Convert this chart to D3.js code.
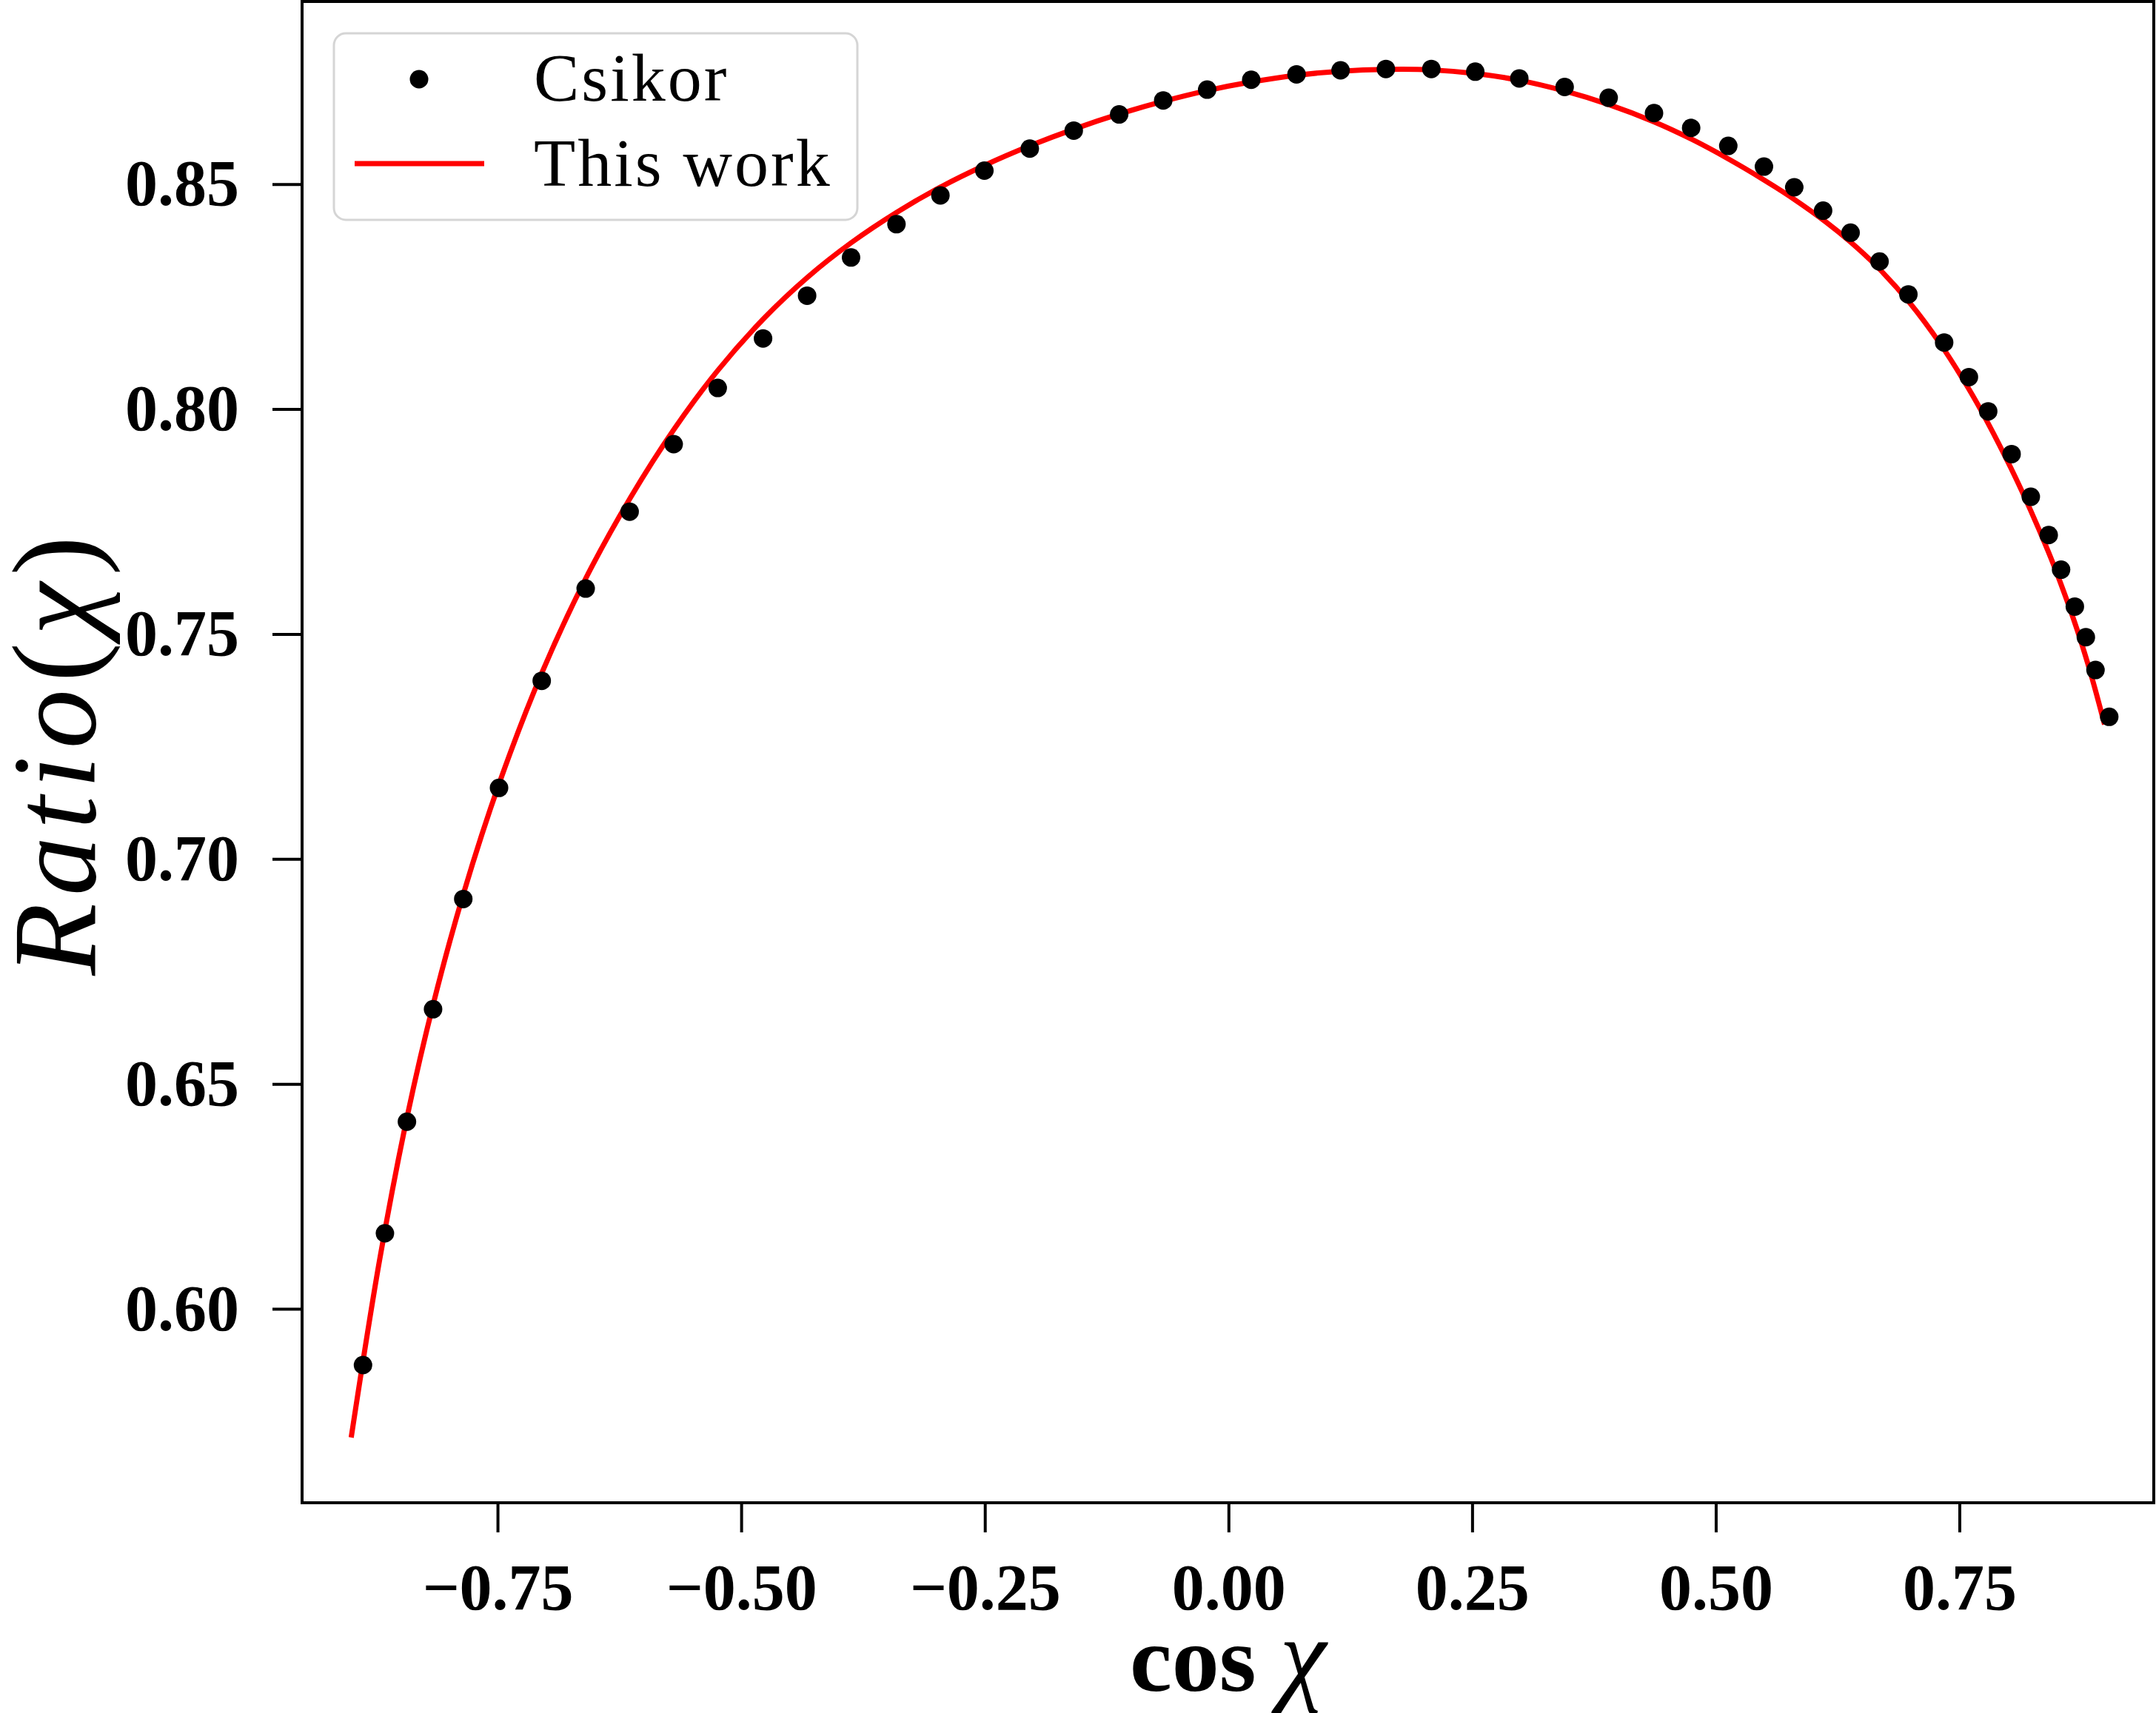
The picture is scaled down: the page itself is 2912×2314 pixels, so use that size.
<!DOCTYPE html>
<html>
<head>
<meta charset="utf-8">
<script src="https://cdn.jsdelivr.net/npm/d3@7"></script>
<style>
  body { margin: 0; background: #fff; }
  svg { display: block; }
  text { font-family: "Liberation Serif", serif; }
</style>
</head>
<body>
<div id="ratioplot"></div>
<script>
// Csikor points
var csikorX = [-0.8881, -0.8656, -0.8430, -0.8162, -0.7852, -0.7485, -0.7047, -0.6596, -0.6145, -0.5693,
               -0.5241, -0.4776, -0.4324, -0.3873, -0.3407, -0.2956, -0.2505, -0.2039, -0.1588, -0.1122,
               -0.0670, -0.0219, 0.0233, 0.0698, 0.1150, 0.1615, 0.2081, 0.2532, 0.2984, 0.3449,
               0.3901, 0.4366, 0.4747, 0.5128, 0.5494, 0.5805, 0.6101, 0.6383, 0.6680, 0.6976,
               0.7343, 0.7597, 0.7795, 0.8035, 0.8232, 0.8416, 0.8543, 0.8684, 0.8797, 0.8896, 0.9037];
var csikorY = [0.5875, 0.6168, 0.6416, 0.6666, 0.6911, 0.7158, 0.7396, 0.7601, 0.7772, 0.7922,
               0.8047, 0.8157, 0.8252, 0.8337, 0.8411, 0.8475, 0.8530, 0.8579, 0.8619, 0.8655,
               0.8686, 0.8710, 0.8732, 0.8744, 0.8753, 0.8756, 0.8756, 0.8750, 0.8735, 0.8716,
               0.8692, 0.8658, 0.8625, 0.8585, 0.8539, 0.8493, 0.8441, 0.8392, 0.8328, 0.8255,
               0.8148, 0.8071, 0.7995, 0.7900, 0.7805, 0.7720, 0.7643, 0.7561, 0.7493, 0.7420, 0.7316];

// "This work" curve
var workX = [-0.9002, -0.8707, -0.8425, -0.8157, -0.7847, -0.7480, -0.7043, -0.6592, -0.6140, -0.5690,
             -0.5240, -0.4770, -0.4320, -0.3870, -0.3400, -0.2950, -0.2500, -0.2040, -0.1590, -0.1120,
             -0.0670, -0.0220, 0.0230, 0.0700, 0.1150, 0.1620, 0.2080, 0.2530, 0.2980, 0.3450,
             0.3900, 0.4360, 0.4750, 0.5130, 0.5490, 0.5800, 0.6135, 0.6380, 0.6640, 0.6994,
             0.7300, 0.7590, 0.7790, 0.8030, 0.8230, 0.8410, 0.8540, 0.8710, 0.8850, 0.8989];
var workY = [0.5714, 0.6113, 0.6430, 0.6680, 0.6925, 0.7170, 0.7415, 0.7625, 0.7802, 0.7955,
             0.8086, 0.8201, 0.8293, 0.8370, 0.8438, 0.8494, 0.8542, 0.8585, 0.8622, 0.8656,
             0.8684, 0.8708, 0.8727, 0.8742, 0.8751, 0.8755, 0.8754, 0.8746, 0.8731, 0.8707,
             0.8677, 0.8639, 0.8600, 0.8556, 0.8510, 0.8467, 0.8415, 0.8372, 0.8320, 0.8235,
             0.8146, 0.8047, 0.7970, 0.7868, 0.7775, 0.7684, 0.7612, 0.7508, 0.7410, 0.7299];

var xTicks = [-0.75, -0.50, -0.25, 0.00, 0.25, 0.50, 0.75];
var yTicks = [0.60, 0.65, 0.70, 0.75, 0.80, 0.85];
var legendLabels = ["Csikor", "This work"];

var W = 2912, H = 2314;
// plot box (note: "top" is taken by window.top, so prefix these)
var mLeft = 408, mRight = 2909, mTop = 2, mBottom = 2030;

var svg = d3.select("#ratioplot")
            .append("svg")
            .attr("width", W)
            .attr("height", H);

// scales
var x = d3.scaleLinear()
          .domain([-0.9506, 0.9494])
          .range([mLeft, mRight]);

var y = d3.scaleLinear()
          .domain([0.5569, 0.8906])
          .range([mBottom, mTop]);

// x axis
var xAxis = svg.append("g")
  .attr("transform", "translate(0," + mBottom + ")")
  .call(d3.axisBottom(x).tickValues(xTicks).tickFormat(d3.format(".2f")).tickSize(40).tickPadding(42));

// y axis
var yAxis = svg.append("g")
  .attr("transform", "translate(" + mLeft + ",0)")
  .call(d3.axisLeft(y).tickValues(yTicks).tickFormat(d3.format(".2f")).tickSize(40).tickPadding(45));

[xAxis, yAxis].forEach(function(ax) {
  ax.select(".domain").remove();
  ax.selectAll(".tick line").attr("stroke", "#000").attr("stroke-width", 4);
  ax.selectAll(".tick text")
    .attr("fill", "#000")
    .style("font-family", "'Liberation Serif', serif")
    .style("font-weight", "bold")
    .style("font-size", "88px");
});

// the model curve
var workData = workX.map(function(d, i) { return {x: d, y: workY[i]}; });

svg.append("path")
  .datum(workData)
  .attr("d", d3.line().curve(d3.curveCatmullRom.alpha(0.5))
    .x(function(d) { return x(d.x); })
    .y(function(d) { return y(d.y); })
  )
  .attr("stroke", "#ff0000")
  .style("stroke-width", 7)
  .style("fill", "none");

// Csikor dots on top
var csikorData = csikorX.map(function(d, i) { return {x: d, y: csikorY[i]}; });

svg.append("g")
  .selectAll("circle")
  .data(csikorData)
  .enter()
  .append("circle")
    .attr("cx", function(d) { return x(d.x); })
    .attr("cy", function(d) { return y(d.y); })
    .attr("r", 12.5)
    .attr("fill", "#000");

// frame
svg.append("rect")
  .attr("x", mLeft)
  .attr("y", mTop)
  .attr("width", mRight - mLeft)
  .attr("height", mBottom - mTop)
  .attr("fill", "none")
  .attr("stroke", "#000")
  .attr("stroke-width", 4);

// legend
var legend = svg.append("g");

legend.append("rect")
  .attr("x", 451)
  .attr("y", 45)
  .attr("width", 707)
  .attr("height", 252)
  .attr("rx", 16)
  .attr("fill", "#fff")
  .attr("fill-opacity", 0.8)
  .attr("stroke", "#d5d5d5")
  .attr("stroke-width", 3);

legend.append("circle")
  .attr("cx", 566)
  .attr("cy", 107)
  .attr("r", 12.5)
  .attr("fill", "#000");

legend.append("line")
  .attr("x1", 479)
  .attr("x2", 654)
  .attr("y1", 221)
  .attr("y2", 221)
  .attr("stroke", "#ff0000")
  .attr("stroke-width", 7);

legend.selectAll("text.lab")
  .data(legendLabels)
  .enter()
  .append("text")
    .attr("class", "lab")
    .attr("x", 721)
    .attr("y", function(d, i) { return 136 + i * 115; })
    .style("font-size", "92px")
    .style("letter-spacing", "3px")
    .text(function(d) { return d; });

// x label: cos chi
var xlab = svg.append("text")
  .attr("x", (mLeft + mRight) / 2)
  .attr("y", 2284)
  .style("text-anchor", "middle")
  .style("font-size", "128px");
xlab.append("tspan").style("font-weight", "bold").text("cos ");
xlab.append("tspan").style("font-style", "italic").style("font-size", "142px").text("χ");

// y label: Ratio(chi)
var ylab = svg.append("text")
  .attr("transform", "translate(128," + ((mTop + mBottom) / 2) + ") rotate(-90)")
  .style("text-anchor", "middle")
  .style("font-size", "160px")
  .style("letter-spacing", "10px");
ylab.append("tspan").style("font-style", "italic").text("Ratio");
ylab.append("tspan").text("(");
ylab.append("tspan").style("font-style", "italic").text("χ");
ylab.append("tspan").text(")");
</script>
</body>
</html>
